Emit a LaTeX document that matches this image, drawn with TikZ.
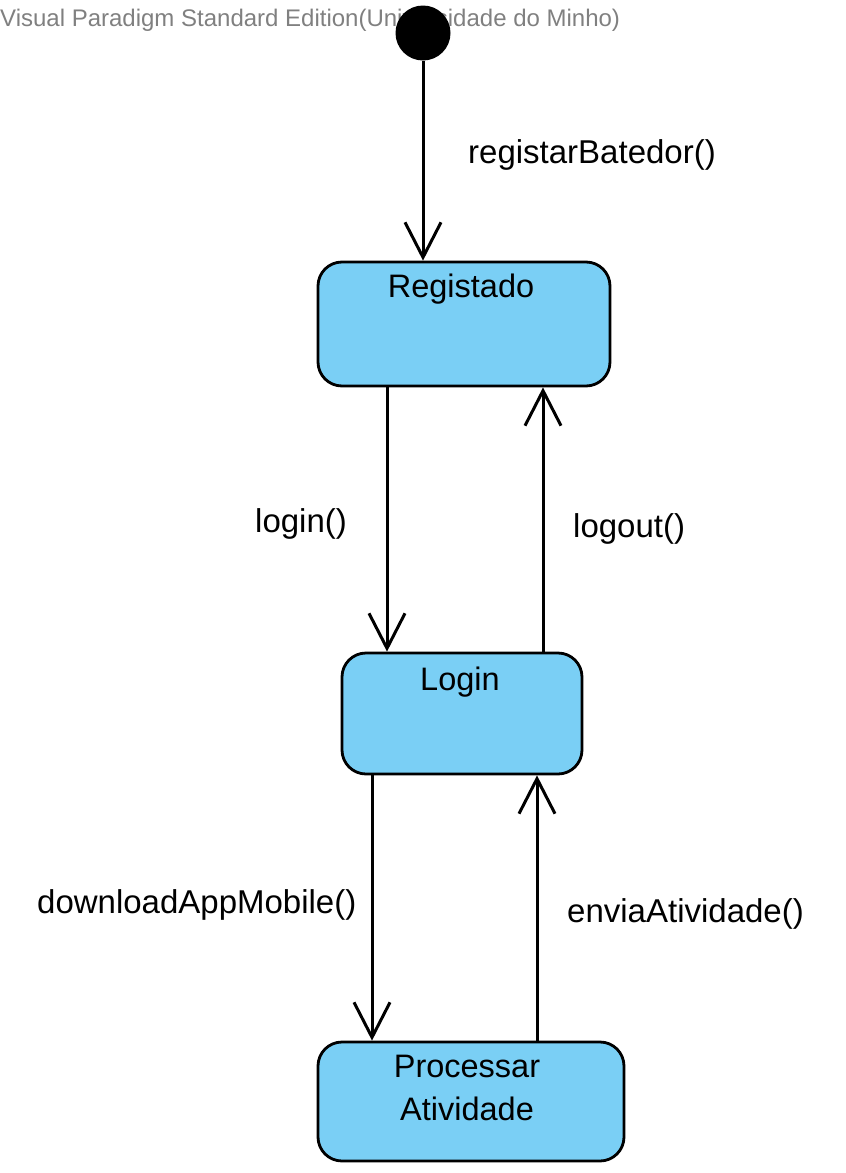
\documentclass[tikz,border=0pt]{standalone}
\usepackage{fontspec}
\setmainfont{Liberation Sans}
\usetikzlibrary{arrows.meta}
\definecolor{stateblue}{HTML}{7ACFF5}
\definecolor{wmgray}{HTML}{808080}
\begin{document}
\begin{tikzpicture}[x=1pt,y=-1pt,
  statebox/.style={draw=black, line width=2.8pt, fill=stateblue, rounded corners=24pt, inner sep=0pt},
  statetext/.style={font=\fontsize{32.5}{43}\selectfont, anchor=base, inner sep=0pt, align=center},
  lbl/.style={font=\fontsize{33}{40}\selectfont, anchor=base west, inner sep=0pt},
  trans/.style={draw=black, line width=3pt, -{Straight Barb[length=35pt,width=36pt]}}
]
\useasboundingbox (0,0) rectangle (846,1173);
% watermark
\node[anchor=base west, inner sep=0pt, text=wmgray, font=\fontsize{24}{28}\selectfont] (wm) at (0,26) {Visual Paradigm Standard Edition(Universidade do Minho)};
% initial state
\node[circle, fill=black, minimum size=55pt, inner sep=0pt] (init) at (423,33) {};
% states
\node[statebox, minimum width=292pt, minimum height=124pt] (reg) at (464,324) {};
\node[statetext] (regt) at (461,297) {Registado};
\node[statebox, minimum width=240pt, minimum height=121pt] (log) at (462,713.5) {};
\node[statetext] (logt) at (460,690) {Login};
\node[statebox, minimum width=306pt, minimum height=119pt] (proc) at (471,1101.5) {};
\node[statetext] (proct1) at (467,1077) {Processar};
\node[statetext] (proct2) at (467,1120) {Atividade};
% x positions of connectors
\coordinate (xa) at (387,0);
\coordinate (xb) at (543,0);
\coordinate (xc) at (372,0);
\coordinate (xd) at (537,0);
% transitions
\draw[trans] (init.south) -- (init.south |- reg.north);
\draw[trans] (xa |- reg.south) -- (xa |- log.north);
\draw[trans] (xb |- log.north) -- (xb |- reg.south);
\draw[trans] (xc |- log.south) -- (xc |- proc.north);
\draw[trans] (xd |- proc.north) -- (xd |- log.south);
% labels
\node[lbl] (l1) at (468,163) {registarBatedor()};
\node[lbl] (l2) at (255,532) {login()};
\node[lbl] (l3) at (573,537) {logout()};
\node[lbl] (l4) at (37,913) {downloadAppMobile()};
\node[lbl] (l5) at (567,922) {enviaAtividade()};
\end{tikzpicture}
\end{document}
